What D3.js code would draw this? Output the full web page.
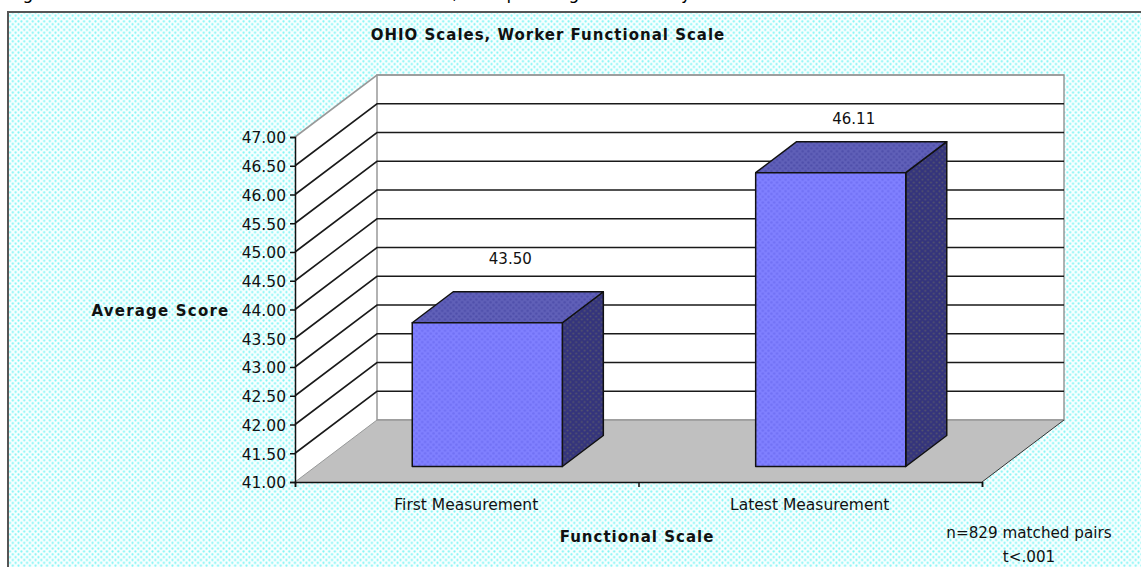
<!DOCTYPE html>
<html>
  <head>
    <meta charset="utf-8">
    <script src="https://d3js.org/d3.v7.min.js"></script>
    <style type="text/css">
html, body {
  margin: 0;
  background: white;
  overflow: hidden;
}
svg {
  display: block;
}
text {
  font-family: "DejaVu Sans", sans-serif;
  fill: #111;
}
.axis path, .axis line {
  stroke: #111;
  stroke-width: 1.5;
}
.axis text {
  font-family: "DejaVu Sans", sans-serif;
  fill: #111;
}
    </style>
  </head>
  <body>
    <script>
var categories = ["First Measurement", "Latest Measurement"]
var scores = [43.50, 46.11]
var scoreLabels = ["43.50", "46.11"]
var yTicks = [41, 41.5, 42, 42.5, 43, 43.5, 44, 44.5, 45, 45.5, 46, 46.5, 47]
var chartTitle = "OHIO Scales, Worker Functional Scale"
var yTitle = "Average Score"
var xTitle = "Functional Scale"
var noteLines = ["n=829 matched pairs", "t<.001"]
// only the tails of the page heading show above the box, the rest is cut off
var headingTails = ["g", ",", "p", "g", "y"]
var headingX = [28, 455, 512, 574, 686]

var width = 1141, height = 567
var left = 295, right = 982, bottom = 482, top_ = 137
var depthX = 82, depthY = 62

var svg = d3.select("body").append("svg")
  .attr("width", width)
  .attr("height", height)

var y = d3.scaleLinear().domain([41, 47]).range([bottom, top_])
var x = d3.scaleBand().domain(categories).range([left, right])
  .paddingInner(0.563).paddingOuter(0.2817)

//dotted fills
var defs = svg.append("defs")
function dots(id, base, dot, size, r) {
  var p = defs.append("pattern")
    .attr("id", id)
    .attr("patternUnits", "userSpaceOnUse")
    .attr("width", size)
    .attr("height", size)
  p.append("rect").attr("width", size).attr("height", size).attr("fill", base)
  p.append("circle").attr("cx", size / 4).attr("cy", size / 4).attr("r", r).attr("fill", dot)
  p.append("circle").attr("cx", size * 3 / 4).attr("cy", size * 3 / 4).attr("r", r).attr("fill", dot)
}
dots("paper", "#f8ffff", "#7ff5f5", 5.7, 1.1)
dots("front", "#8080ff", "#7070f4", 5.7, 1.2)
dots("topface", "#6060b8", "#4e4eaa", 5.7, 1.2)
dots("sideface", "#34347c", "#55556e", 5.7, 1)

//page heading and box
svg.selectAll(".heading")
  .data(headingTails)
  .enter().append("text")
  .attr("class", "heading")
  .attr("x", function(d, i) { return headingX[i] })
  .attr("y", -1)
  .attr("text-anchor", "middle")
  .attr("font-size", 17)
  .style("fill", "#000")
  .text(function(d) { return d })

svg.append("rect")
  .attr("x", 8).attr("y", 12)
  .attr("width", width).attr("height", height)
  .attr("fill", "url(#paper)")
  .attr("stroke", "#555")
  .attr("stroke-width", 2)

var poly = function(pts) {
  return d3.line()(pts) + "Z"
}

//walls and floor
svg.append("path")
  .attr("d", poly([[left, y(47)], [left + depthX, y(47) - depthY], [left + depthX, y(41) - depthY], [left, y(41)]]))
  .attr("fill", "white")
svg.append("rect")
  .attr("x", left + depthX).attr("y", y(47) - depthY)
  .attr("width", right - left).attr("height", y(41) - y(47))
  .attr("fill", "white")
  .attr("stroke", "#999")
  .attr("stroke-width", 1.5)
svg.append("path")
  .attr("d", poly([[left, y(41)], [left + depthX, y(41) - depthY], [right + depthX, y(41) - depthY], [right, y(41)]]))
  .attr("fill", "#c0c0c0")
svg.append("line")
  .attr("x1", left + depthX).attr("x2", right + depthX)
  .attr("y1", y(41) - depthY).attr("y2", y(41) - depthY)
  .attr("stroke", "#999")
  .attr("stroke-width", 1.5)
svg.append("line")
  .attr("x1", left).attr("x2", left + depthX)
  .attr("y1", y(41)).attr("y2", y(41) - depthY)
  .attr("stroke", "#999")
svg.append("line")
  .attr("x1", right).attr("x2", right + depthX)
  .attr("y1", y(41)).attr("y2", y(41) - depthY)
  .attr("stroke", "#333")

//grid on side wall and back wall
var inner = yTicks.filter(function(d) { return d > 41 })
svg.selectAll(".grid")
  .data(inner)
  .enter().append("path")
  .attr("class", "grid")
  .attr("d", function(d) {
    return d3.line()([[left, y(d)], [left + depthX, y(d) - depthY], [right + depthX, y(d) - depthY]])
  })
  .attr("fill", "none")
  .attr("stroke", function(d) { return d == 47 ? "#999" : "#1a1a1a" })
  .attr("stroke-width", 1.6)

//axes
var yAxis = d3.axisLeft(y)
  .tickValues(yTicks)
  .tickFormat(d3.format(".2f"))
  .tickSize(5)
  .tickPadding(4)
var gy = svg.append("g")
  .attr("class", "axis")
  .attr("transform", "translate(" + left + ",0)")
  .call(yAxis)
gy.selectAll("text").attr("font-size", 15.5).attr("y", 1)

var edges = d3.scaleLinear().domain([0, categories.length]).range([left, right])
var xEdges = d3.axisBottom(edges)
  .tickValues(d3.range(categories.length + 1))
  .tickFormat("")
  .tickSizeInner(5)
  .tickSizeOuter(5)
svg.append("g")
  .attr("class", "axis")
  .attr("transform", "translate(0," + bottom + ")")
  .call(xEdges)

var xAxis = d3.axisBottom(x).tickSize(0).tickPadding(17)
var gx = svg.append("g")
  .attr("class", "axis")
  .attr("transform", "translate(" + (-0.5) + "," + bottom + ")")
  .call(xAxis)
gx.select(".domain").remove()
gx.selectAll("text").attr("font-size", 15.5)

//bars sit in the middle half of the depth
var offX = depthX / 4, offY = depthY / 4
var bars = svg.selectAll(".bar")
  .data(scores)
  .enter().append("g")
  .attr("class", "bar")
  .attr("transform", function(d, i) {
    return "translate(" + (x(categories[i]) + offX) + "," + (-offY) + ")"
  })
  .attr("stroke", "#111")
  .attr("stroke-width", 1.5)
  .attr("stroke-linejoin", "round")

bars.append("path")
  .attr("fill", "url(#sideface)")
  .attr("d", function(d) {
    var w = x.bandwidth()
    return poly([[w, y(d)], [w + depthX / 2, y(d) - depthY / 2], [w + depthX / 2, y(41) - depthY / 2], [w, y(41)]])
  })
bars.append("path")
  .attr("fill", "url(#topface)")
  .attr("d", function(d) {
    var w = x.bandwidth()
    return poly([[0, y(d)], [depthX / 2, y(d) - depthY / 2], [w + depthX / 2, y(d) - depthY / 2], [w, y(d)]])
  })
bars.append("rect")
  .attr("fill", "url(#front)")
  .attr("y", function(d) { return y(d) })
  .attr("width", x.bandwidth())
  .attr("height", function(d) { return y(41) - y(d) })

//value labels, the two are not the same distance off the bars in the original
var labelGap = [79, 69]
svg.selectAll(".value")
  .data(scores)
  .enter().append("text")
  .attr("class", "value")
  .attr("x", function(d, i) { return x(categories[i]) + x.bandwidth() / 2 + offX + 23 })
  .attr("y", function(d, i) { return y(d) - labelGap[i] })
  .attr("text-anchor", "middle")
  .attr("dominant-baseline", "central")
  .attr("font-size", 15)
  .text(function(d, i) { return scoreLabels[i] })

//titles
function boldTitle(txt, px, py, spacing) {
  svg.append("text")
    .attr("x", px).attr("y", py)
    .attr("text-anchor", "middle")
    .attr("dominant-baseline", "central")
    .attr("font-size", 15)
    .attr("font-weight", "bold")
    .attr("letter-spacing", spacing)
    .text(txt)
}
boldTitle(chartTitle, 548, 35, 1)
boldTitle(yTitle, 160.5, 311, 1.2)
boldTitle(xTitle, 637, 537, 1)

svg.selectAll(".note")
  .data(noteLines)
  .enter().append("text")
  .attr("class", "note")
  .attr("x", 1029)
  .attr("y", function(d, i) { return 533 + i * 24 })
  .attr("text-anchor", "middle")
  .attr("dominant-baseline", "central")
  .attr("font-size", 15.2)
  .text(function(d) { return d })
    </script>
  </body>
</html>
